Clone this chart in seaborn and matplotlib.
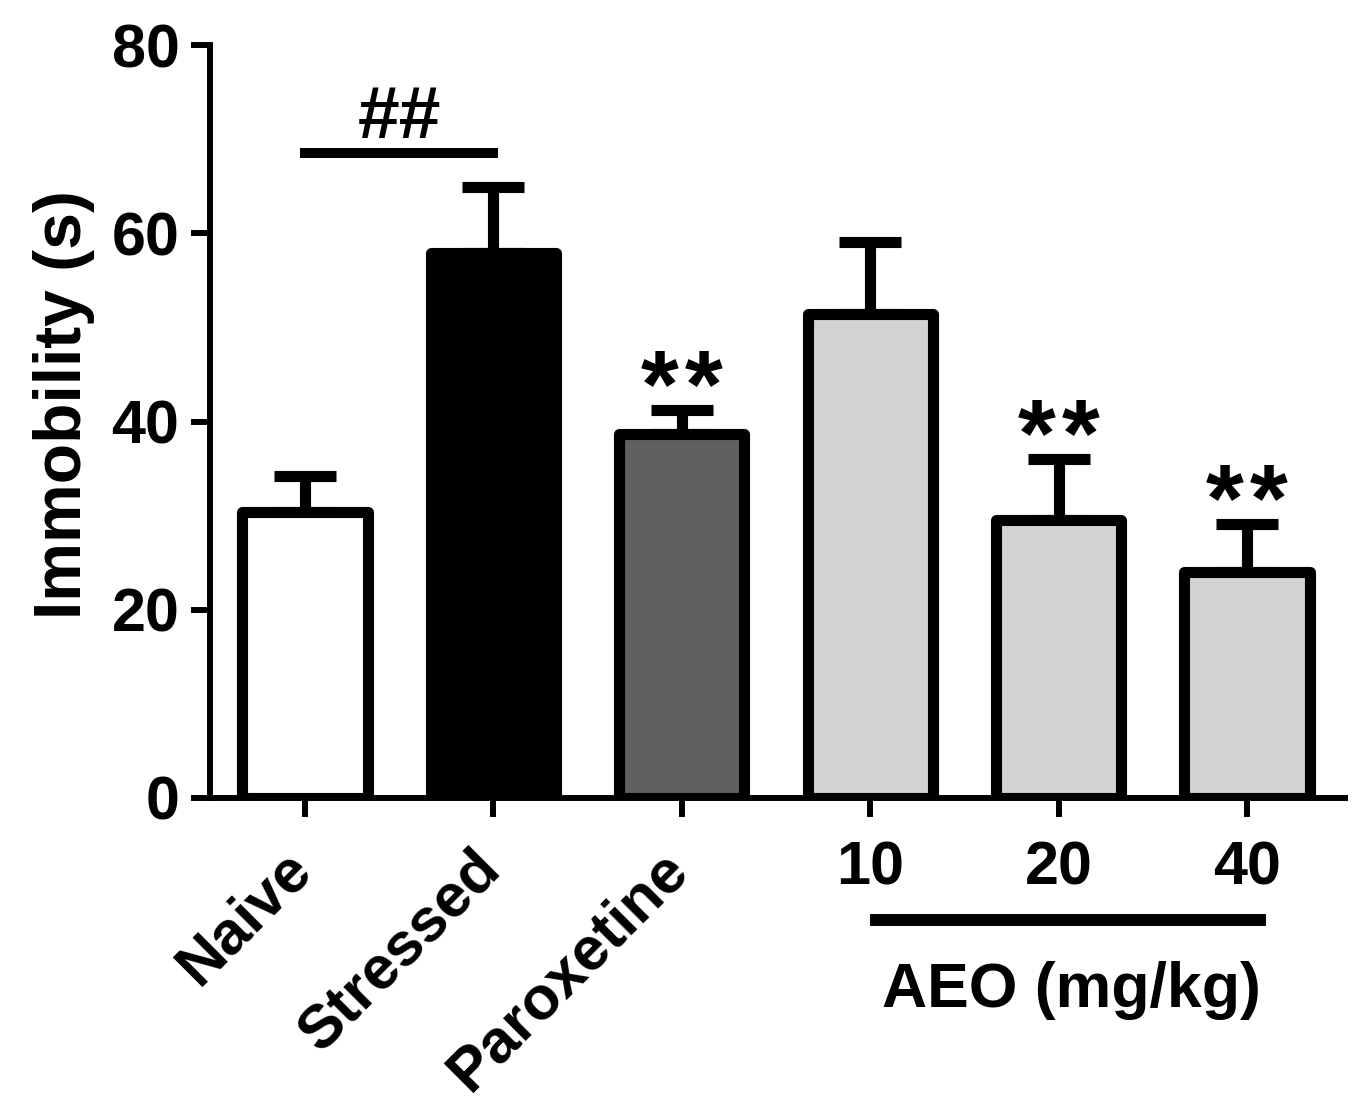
import numpy as np
import pandas as pd
import matplotlib
matplotlib.use("Agg")
import matplotlib.pyplot as plt
import seaborn as sns
from matplotlib import transforms

# ---- data ----
groups = ["Naive", "Stressed", "Paroxetine", "10", "20", "40"]
means = [30.4, 57.9, 38.7, 51.4, 29.5, 24.0]
sems = [3.8, 7.0, 2.5, 7.7, 6.5, 5.1]
colors = ["#ffffff", "#000000", "#606060", "#d3d3d3", "#d3d3d3", "#d3d3d3"]
n_stars = [0, 0, 2, 0, 2, 2]
yticks = [0, 20, 40, 60, 80]
ylabel = "Immobility (s)"
dose_label = "AEO (mg/kg)"
hash_label = "##"

sns.set_style("ticks")
plt.rcParams["font.family"] = ["Liberation Sans", "DejaVu Sans"]
for key in ["text.color", "axes.labelcolor", "xtick.color", "ytick.color",
            "axes.edgecolor"]:
    plt.rcParams[key] = "black"

fig = plt.figure(figsize=(13.7, 11.15), dpi=100)
ax = fig.add_axes([210 / 1370, 317 / 1115, 1135 / 1370, 753 / 1115])

df = pd.DataFrame({"group": groups, "immobility": means})
sns.barplot(data=df, x="group", y="immobility", hue="group", order=groups,
            hue_order=groups, palette=colors, saturation=1, legend=False,
            width=0.665, edgecolor="black", linewidth=8, errorbar=None, ax=ax)
for p in ax.patches:
    p.set_joinstyle("round")

x = np.arange(len(groups))
ax.errorbar(x, means, yerr=[np.zeros(len(sems)), sems], fmt="none",
            ecolor="black", elinewidth=8, capsize=22, capthick=8, zorder=0.9)

# significance stars (two asterisks, spaced like the original)
for xi, m, s, n in zip(x, means, sems, n_stars):
    if n:
        for k in range(n):
            dx = (k - (n - 1) / 2) * 31.7
            ax.annotate("*", xy=(xi, m + s), xytext=(dx, -5),
                        textcoords="offset points", ha="center",
                        va="baseline", fontsize=70, fontweight="bold")

# ## bracket
ax.plot([0, 1], [68.5, 68.5], color="black", lw=7.2, solid_capstyle="projecting")
ax.text(0.5, 70.1, hash_label, ha="center", va="baseline", fontsize=54,
        fontweight="bold")

ax.set_xlim(-0.504, 5.52)
ax.set_ylim(0, 80)
ax.set_yticks(yticks)
ax.set_xlabel("")
ax.set_ylabel(ylabel, fontsize=47.5, fontweight="bold", labelpad=12)
ax.yaxis.label.set_y(0.522)

sns.despine(ax=ax)
for sp in ["left", "bottom"]:
    ax.spines[sp].set_linewidth(4.3)

ax.tick_params(axis="both", width=4.3, length=14, color="black", labelsize=44)
ax.tick_params(axis="x", pad=16.5)
ax.tick_params(axis="y", pad=8)

ax.set_xticks(x)
ax.set_xticklabels(groups)
for lab in ax.get_yticklabels() + ax.get_xticklabels():
    lab.set_fontweight("bold")

off = transforms.ScaledTranslation(13 / 72, 0, fig.dpi_scale_trans)
for i, lab in enumerate(ax.get_xticklabels()):
    if i < 3:
        lab.set_rotation(45)
        lab.set_ha("right")
        lab.set_va("top")
        lab.set_transform(lab.get_transform() + off)

trans = transforms.blended_transform_factory(ax.transData, ax.transAxes)
ax.plot([3.0, 5.1], [-0.162, -0.162], transform=trans, clip_on=False,
        lw=8.6, color="black", solid_capstyle="butt")
ax.text(4.07, -0.2776, dose_label, transform=trans, ha="center", va="baseline",
        fontsize=45, fontweight="bold")

fig.savefig("out.png", dpi=100)
